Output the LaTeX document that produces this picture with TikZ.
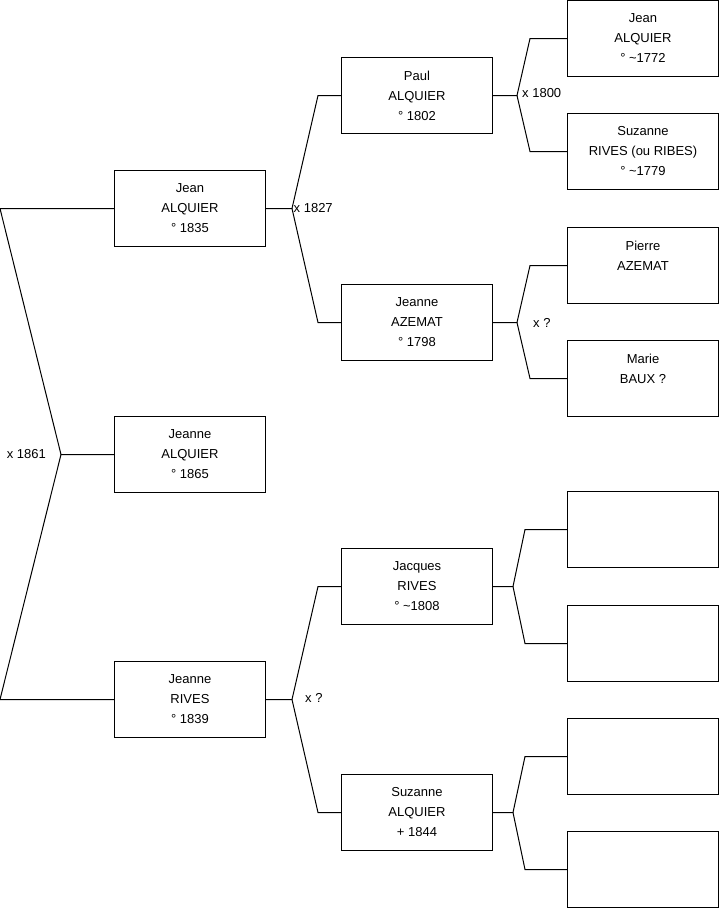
\documentclass[tikz,border=0pt]{standalone}
\usepackage{fontspec}
\setmainfont{Liberation Sans}
\usetikzlibrary{positioning,calc}
\tikzset{
  person/.style={draw, line width=1pt, minimum width=151pt, minimum height=76pt, inner sep=0pt, anchor=north west, align=center, font=\fontsize{13}{20}\selectfont},
  union/.style={line width=1pt},
  mariage/.style={inner sep=0pt, font=\fontsize{13}{15}\selectfont}
}

\begin{document}
\begin{tikzpicture}[x=1pt, y={(0,-1pt)}]
  \useasboundingbox (0,0) rectangle (719,908);

  % generation 1
  \node[person] (jeanneA) at (114,416) {Jeanne\\ALQUIER\\° 1865};

  % generation 2
  \node[person] (jean) at (114,170) {Jean\\ALQUIER\\° 1835};
  \node[person] (jeanneR) at (114,661) {Jeanne\\RIVES\\° 1839};

  % generation 3
  \node[person] (paul) at (341,57) {Paul\\ALQUIER\\° 1802};
  \node[person] (azemat) at (341,284) {Jeanne\\AZEMAT\\° 1798};
  \node[person] (jacques) at (341,548) {Jacques\\RIVES\\° \textasciitilde1808};
  \node[person] (suzanneA) at (341,774) {Suzanne\\ALQUIER\\+ 1844};

  % generation 4
  \node[person] (jeanA) at (567,0) {Jean\\ALQUIER\\° \textasciitilde1772};
  \node[person] (suzanneR) at (567,113) {Suzanne\\RIVES (ou RIBES)\\° \textasciitilde1779};
  \node[person] (pierre) at (567,227) {Pierre\\AZEMAT\\\mbox{}};
  \node[person] (marie) at (567,340) {Marie\\BAUX ?\\\mbox{}};
  \node[person] (p5) at (567,491) {};
  \node[person] (p6) at (567,605) {};
  \node[person] (p7) at (567,718) {};
  \node[person] (p8) at (567,831) {};

  % unions
  \coordinate (m1) at ([xshift=-53pt]jeanneA.west);
  \draw[union] (jeanneA.west) -- (m1) -- (jean.west -| 0,0) -- (jean.west);
  \draw[union] (m1) -- (jeanneR.west -| 0,0) -- (jeanneR.west);
  \node[mariage, left=15pt of m1] (u1) {x 1861};

  \coordinate (m2) at ([xshift=26pt]jean.east);
  \draw[union] (jean.east) -- (m2) -- ([xshift=-23pt]paul.west) -- (paul.west);
  \draw[union] (m2) -- ([xshift=-23pt]azemat.west) -- (azemat.west);
  \node[mariage, right=1.5pt of m2] (u2) {x 1827};

  \coordinate (m3) at ([xshift=26pt]jeanneR.east);
  \draw[union] (jeanneR.east) -- (m3) -- ([xshift=-23pt]jacques.west) -- (jacques.west);
  \draw[union] (m3) -- ([xshift=-23pt]suzanneA.west) -- (suzanneA.west);
  \node[mariage, right=13pt of m3, yshift=1.5pt] (u3) {x ?};

  \coordinate (m4) at ([xshift=24pt]paul.east);
  \draw[union] (paul.east) -- (m4) -- ([xshift=-37pt]jeanA.west) -- (jeanA.west);
  \draw[union] (m4) -- ([xshift=-37pt]suzanneR.west) -- (suzanneR.west);
  \node[mariage, right=5pt of m4, yshift=2pt] (u4) {x 1800};

  \coordinate (m5) at ([xshift=24pt]azemat.east);
  \draw[union] (azemat.east) -- (m5) -- ([xshift=-37pt]pierre.west) -- (pierre.west);
  \draw[union] (m5) -- ([xshift=-37pt]marie.west) -- (marie.west);
  \node[mariage, right=16pt of m5] (u5) {x ?};

  \coordinate (m6) at ([xshift=20pt]jacques.east);
  \draw[union] (jacques.east) -- (m6) -- ([xshift=-42pt]p5.west) -- (p5.west);
  \draw[union] (m6) -- ([xshift=-42pt]p6.west) -- (p6.west);

  \coordinate (m7) at ([xshift=20pt]suzanneA.east);
  \draw[union] (suzanneA.east) -- (m7) -- ([xshift=-42pt]p7.west) -- (p7.west);
  \draw[union] (m7) -- ([xshift=-42pt]p8.west) -- (p8.west);
\end{tikzpicture}
\end{document}
